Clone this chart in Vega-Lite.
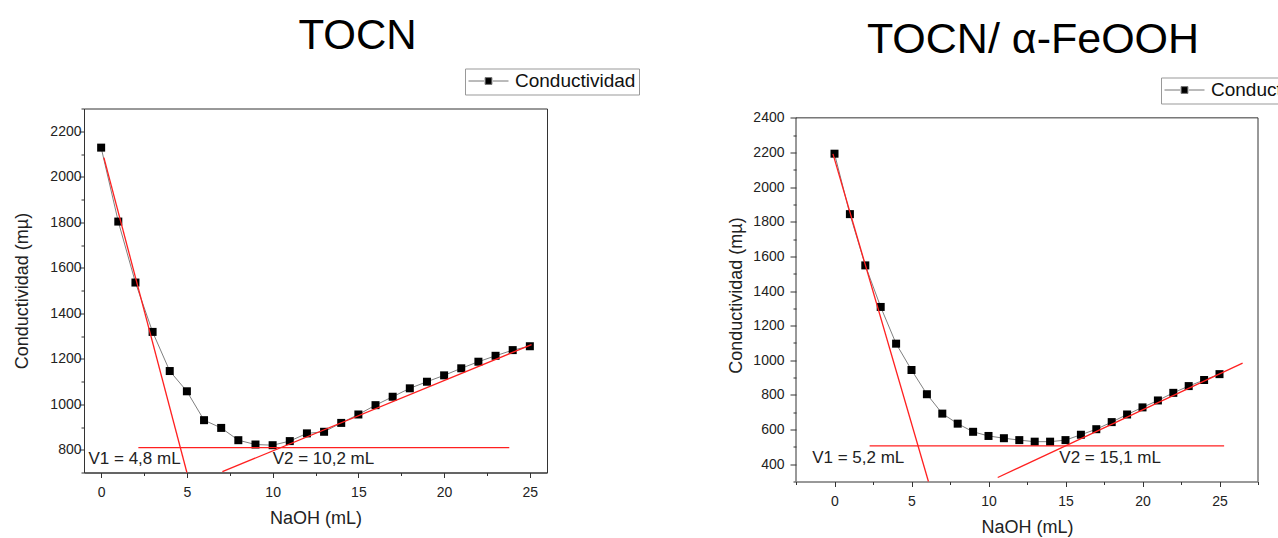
{
  "$schema": "https://vega.github.io/schema/vega-lite/v6.json",
  "padding": {"left": 13, "top": 13.5, "right": 0, "bottom": 0},
  "autosize": {"type": "pad"},
  "spacing": 87,
  "background": "white",
  "resolve": {"scale": {"fill": "independent"}, "legend": {"fill": "independent"}},
  "config": {
    "font": "Liberation Sans",
    "view": {"stroke": "#333", "strokeWidth": 1},
    "axis": {
      "grid": false,
      "domainColor": "#333",
      "tickColor": "#333",
      "labelColor": "#222",
      "titleColor": "#222",
      "labelFont": "Liberation Sans",
      "titleFont": "Liberation Sans",
      "labelFontSize": 14,
      "titleFontSize": 18,
      "titleFontWeight": "normal",
      "format": "d"
    },
    "legend": {
      "orient": "none",
      "strokeColor": "#999",
      "fillColor": "white",
      "padding": 3,
      "symbolType": "M-1,0H-0.22M0.22,0H1M-0.17,-0.17H0.17V0.17H-0.17Z",
      "symbolSize": 1600,
      "symbolStrokeColor": "#777",
      "symbolStrokeWidth": 1,
      "clipHeight": 19,
      "labelFont": "Liberation Sans",
      "labelFontSize": 19,
      "labelColor": "#111",
      "labelOffset": 6,
      "titlePadding": 0
    }
  },
  "datasets": {
    "tocn": [
      {"naoh": 0, "cond": 2128}, {"naoh": 1, "cond": 1803}, {"naoh": 2, "cond": 1535}, {"naoh": 3, "cond": 1318},
      {"naoh": 4, "cond": 1146}, {"naoh": 5, "cond": 1057}, {"naoh": 6, "cond": 930}, {"naoh": 7, "cond": 896},
      {"naoh": 8, "cond": 842}, {"naoh": 9, "cond": 823}, {"naoh": 10, "cond": 820}, {"naoh": 11, "cond": 838},
      {"naoh": 12, "cond": 872}, {"naoh": 13, "cond": 879}, {"naoh": 14, "cond": 918}, {"naoh": 15, "cond": 955},
      {"naoh": 16, "cond": 996}, {"naoh": 17, "cond": 1033}, {"naoh": 18, "cond": 1070}, {"naoh": 19, "cond": 1099},
      {"naoh": 20, "cond": 1127}, {"naoh": 21, "cond": 1158}, {"naoh": 22, "cond": 1187}, {"naoh": 23, "cond": 1213},
      {"naoh": 24, "cond": 1238}, {"naoh": 25, "cond": 1255}
    ],
    "feooh": [
      {"naoh": 0, "cond": 2193}, {"naoh": 1, "cond": 1844}, {"naoh": 2, "cond": 1548}, {"naoh": 3, "cond": 1308},
      {"naoh": 4, "cond": 1096}, {"naoh": 5, "cond": 944}, {"naoh": 6, "cond": 804}, {"naoh": 7, "cond": 692},
      {"naoh": 8, "cond": 634}, {"naoh": 9, "cond": 587}, {"naoh": 10, "cond": 563}, {"naoh": 11, "cond": 550},
      {"naoh": 12, "cond": 539}, {"naoh": 13, "cond": 530}, {"naoh": 14, "cond": 530}, {"naoh": 15, "cond": 539},
      {"naoh": 16, "cond": 570}, {"naoh": 17, "cond": 602}, {"naoh": 18, "cond": 643}, {"naoh": 19, "cond": 687},
      {"naoh": 20, "cond": 728}, {"naoh": 21, "cond": 768}, {"naoh": 22, "cond": 812}, {"naoh": 23, "cond": 851},
      {"naoh": 24, "cond": 886}, {"naoh": 25, "cond": 920}
    ],
    "tocnLines": [
      {"seg": "a", "x": 0.16, "y": 2084}, {"seg": "a", "x": 5.0, "y": 700},
      {"seg": "b", "x": 2.17, "y": 809}, {"seg": "b", "x": 23.8, "y": 809},
      {"seg": "c", "x": 7.07, "y": 704}, {"seg": "c", "x": 25.1, "y": 1262}
    ],
    "feoohLines": [
      {"seg": "a", "x": -0.1, "y": 2192}, {"seg": "a", "x": 6.1, "y": 300},
      {"seg": "b", "x": 2.28, "y": 506}, {"seg": "b", "x": 25.3, "y": 506},
      {"seg": "c", "x": 10.6, "y": 323}, {"seg": "c", "x": 26.5, "y": 984}
    ],
    "tocnText": [
      {"x": -0.74, "y": 737, "label": "V1 = 4,8 mL"},
      {"x": 10.0, "y": 737, "label": "V2 = 10,2 mL"}
    ],
    "feoohText": [
      {"x": -1.45, "y": 404, "label": "V1 = 5,2 mL"},
      {"x": 14.6, "y": 404, "label": "V2 = 15,1 mL"}
    ],
    "feoohFrame": [
      {"side": "left", "x1": -2.5, "x2": -2.5, "y1": 300, "y2": 2400},
      {"side": "top", "x1": -2.5, "x2": 27.5, "y1": 2400, "y2": 2400},
      {"side": "right", "x1": 27.5, "x2": 27.5, "y1": 300, "y2": 2400}
    ]
  },
  "hconcat": [
    {
      "width": 463,
      "height": 364,
      "title": {"text": "TOCN", "frame": "group", "anchor": "middle", "dx": 42, "offset": -22.5, "baseline": "alphabetic", "fontSize": 42, "fontWeight": "normal", "font": "Liberation Sans", "color": "#000"},
      "resolve": {"axis": {"x": "independent", "y": "independent"}},
      "layer": [
        {
          "data": {"name": "tocn"},
          "mark": {"type": "line", "color": "#808080", "strokeWidth": 1},
          "encoding": {
            "x": {"field": "naoh", "type": "quantitative", "scale": {"domain": [-1, 26], "nice": false, "zero": false},
                  "axis": {"orient": "bottom", "values": [0, 5, 10, 15, 20, 25], "tickSize": 5, "labelPadding": 8, "title": "NaOH (mL)", "titlePadding": 10}},
            "y": {"field": "cond", "type": "quantitative", "scale": {"domain": [700, 2300], "nice": false, "zero": false},
                  "axis": {"orient": "left", "values": [800, 1000, 1200, 1400, 1600, 1800, 2000, 2200], "tickSize": 5, "labelPadding": -2, "title": "Conductividad (mµ)", "titlePadding": 18}}
          }
        },
        {
          "data": {"name": "tocn"},
          "mark": {"type": "point", "shape": "square", "filled": true, "size": 64, "opacity": 1},
          "encoding": {
            "x": {"field": "naoh", "type": "quantitative", "axis": {"orient": "bottom", "values": [2.5, 7.5, 12.5, 17.5, 22.5], "tickSize": 3, "labels": false, "domain": false, "title": null}},
            "y": {"field": "cond", "type": "quantitative", "axis": {"orient": "left", "values": [700, 900, 1100, 1300, 1500, 1700, 1900, 2100, 2300], "tickSize": 3, "labels": false, "domain": false, "title": null}},
            "fill": {"datum": "Conductividad", "scale": {"range": ["#000"]}, "legend": {"title": null, "legendX": 381, "legendY": -40}}
          }
        },
        {
          "data": {"name": "tocnLines"},
          "mark": {"type": "line", "color": "#ff2020", "strokeWidth": 1.3},
          "encoding": {
            "x": {"field": "x", "type": "quantitative", "axis": null},
            "y": {"field": "y", "type": "quantitative", "axis": null},
            "detail": {"field": "seg"}
          }
        },
        {
          "data": {"name": "tocnText"},
          "mark": {"type": "text", "align": "left", "baseline": "alphabetic", "fontSize": 17, "font": "Liberation Sans", "color": "#222"},
          "encoding": {
            "x": {"field": "x", "type": "quantitative", "axis": null},
            "y": {"field": "y", "type": "quantitative", "axis": null},
            "text": {"field": "label"}
          }
        }
      ]
    },
    {
      "width": 462,
      "height": 373,
      "view": {"stroke": null},
      "title": {"text": "TOCN/ α-FeOOH", "frame": "group", "anchor": "middle", "dx": 6, "offset": -18.5, "baseline": "alphabetic", "fontSize": 43, "fontWeight": "normal", "font": "Liberation Sans", "color": "#000"},
      "resolve": {"axis": {"x": "independent", "y": "independent"}},
      "layer": [
        {
          "data": {"name": "feooh"},
          "mark": {"type": "line", "color": "#808080", "strokeWidth": 1},
          "encoding": {
            "x": {"field": "naoh", "type": "quantitative", "scale": {"domain": [-2.5, 27.5], "nice": false, "zero": false},
                  "axis": {"orient": "bottom", "values": [0, 5, 10, 15, 20, 25], "tickSize": 5, "labelPadding": 8, "title": "NaOH (mL)", "titlePadding": 10}},
            "y": {"field": "cond", "type": "quantitative", "scale": {"domain": [300, 2454], "nice": false, "zero": false},
                  "axis": {"orient": "left", "values": [400, 600, 800, 1000, 1200, 1400, 1600, 1800, 2000, 2200, 2400], "tickSize": 6, "labelPadding": 6, "domain": false, "title": "Conductividad (mµ)", "titlePadding": 7}}
          }
        },
        {
          "data": {"name": "feooh"},
          "mark": {"type": "point", "shape": "square", "filled": true, "size": 64, "opacity": 1},
          "encoding": {
            "x": {"field": "naoh", "type": "quantitative", "axis": {"orient": "bottom", "values": [-2.5, 2.5, 7.5, 12.5, 17.5, 22.5, 27.5], "tickSize": 3, "labels": false, "domain": false, "title": null}},
            "y": {"field": "cond", "type": "quantitative", "axis": {"orient": "left", "values": [300, 500, 700, 900, 1100, 1300, 1500, 1700, 1900, 2100, 2300], "tickSize": 3, "labels": false, "domain": false, "title": null}},
            "fill": {"datum": "Conductividad", "scale": {"range": ["#000"]}, "legend": {"title": null, "legendX": 365, "legendY": -31}}
          }
        },
        {
          "data": {"name": "feoohFrame"},
          "mark": {"type": "rule", "color": "#333", "strokeWidth": 1},
          "encoding": {
            "x": {"field": "x1", "type": "quantitative", "axis": null},
            "x2": {"field": "x2"},
            "y": {"field": "y1", "type": "quantitative", "axis": null},
            "y2": {"field": "y2"}
          }
        },
        {
          "data": {"name": "feoohLines"},
          "mark": {"type": "line", "color": "#ff2020", "strokeWidth": 1.3},
          "encoding": {
            "x": {"field": "x", "type": "quantitative", "axis": null},
            "y": {"field": "y", "type": "quantitative", "axis": null},
            "detail": {"field": "seg"}
          }
        },
        {
          "data": {"name": "feoohText"},
          "mark": {"type": "text", "align": "left", "baseline": "alphabetic", "fontSize": 17, "font": "Liberation Sans", "color": "#222"},
          "encoding": {
            "x": {"field": "x", "type": "quantitative", "axis": null},
            "y": {"field": "y", "type": "quantitative", "axis": null},
            "text": {"field": "label"}
          }
        }
      ]
    }
  ]
}
